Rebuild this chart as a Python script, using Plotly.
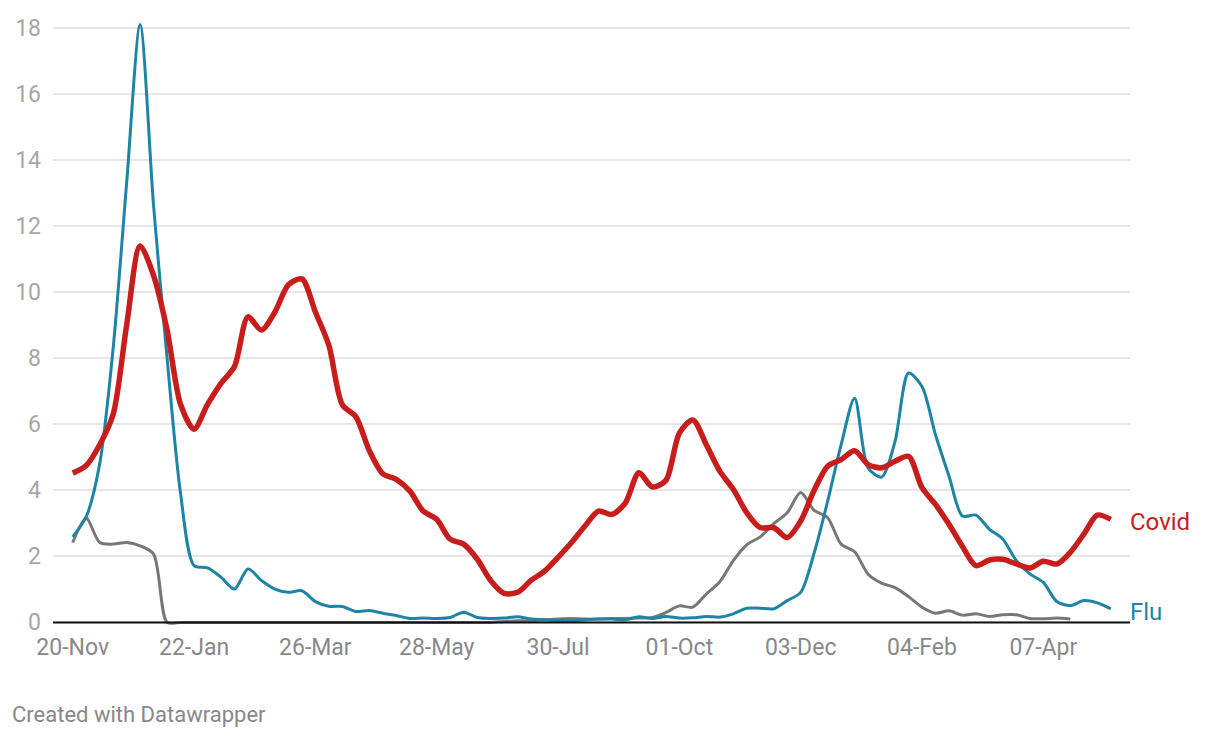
import pandas as pd
import plotly.graph_objects as go

# ---- data (weekly, starting 20-Nov-2022) ----
start_date = "2022-11-20"
covid = [4.52, 4.75, 5.38, 6.3, 9.0, 11.4, 10.5, 8.85, 6.6, 5.85,
         6.6, 7.24, 7.75, 9.25, 8.85, 9.4, 10.22, 10.4, 9.4, 8.39,
         6.59, 6.23, 5.2, 4.5, 4.33, 3.98, 3.37, 3.12, 2.52, 2.37,
         1.92, 1.27, 0.88, 0.91, 1.27, 1.55, 1.97, 2.42, 2.92, 3.37,
         3.27, 3.62, 4.53, 4.1, 4.3, 5.73, 6.13, 5.38, 4.58, 4.03,
         3.32, 2.87, 2.87, 2.57, 3.07, 4.0, 4.73, 4.93, 5.2, 4.78,
         4.68, 4.88, 5.03, 4.08, 3.57, 2.97, 2.3, 1.72, 1.89, 1.91,
         1.77, 1.65, 1.85, 1.77, 2.12, 2.67, 3.25, 3.12]
flu = [2.59, 3.2, 4.8, 8.3, 13.3, 18.1, 12.6, 8.0, 3.9, 1.72,
       1.65, 1.37, 1.01, 1.62, 1.27, 1.01, 0.91, 0.96, 0.63, 0.49,
       0.48, 0.33, 0.36, 0.28, 0.21, 0.12, 0.13, 0.12, 0.15, 0.31,
       0.15, 0.12, 0.13, 0.17, 0.1, 0.08, 0.05, 0.05, 0.08, 0.1,
       0.1, 0.08, 0.17, 0.12, 0.18, 0.13, 0.14, 0.18, 0.16, 0.26,
       0.43, 0.43, 0.41, 0.66, 0.91, 2.1, 3.67, 5.38, 6.79, 4.68,
       4.4, 5.48, 7.55, 7.14, 5.68, 4.43, 3.22, 3.25, 2.82, 2.52,
       1.87, 1.47, 1.21, 0.63, 0.51, 0.66, 0.59, 0.41]
other = [2.42, 3.15, 2.42, 2.37, 2.42, 2.32, 2.07, 0, 0, 0,
         0, 0, 0, 0, 0, 0, 0, 0, 0, 0,
         0, 0, 0, 0, 0, 0, 0, 0, 0, 0,
         0, 0, 0.03, 0.05, 0.05, 0.08, 0.1, 0.12, 0.1, 0.1,
         0.12, 0.12, 0.13, 0.15, 0.3, 0.5, 0.46, 0.86, 1.23, 1.87,
         2.35, 2.59, 2.99, 3.32, 3.93, 3.39, 3.17, 2.37, 2.14, 1.46,
         1.19, 1.05, 0.78, 0.46, 0.28, 0.35, 0.22, 0.26, 0.18, 0.23,
         0.23, 0.12, 0.11, 0.13, 0.1]
tick_dates = ["2022-11-20", "2023-01-22", "2023-03-26", "2023-05-28", "2023-07-30",
              "2023-10-01", "2023-12-03", "2024-02-04", "2024-04-07"]
tick_labels = ["20-Nov", "22-Jan", "26-Mar", "28-May", "30-Jul",
               "01-Oct", "03-Dec", "04-Feb", "07-Apr"]
y_ticks = [0, 2, 4, 6, 8, 10, 12, 14, 16, 18]

dates = pd.date_range(start_date, periods=len(covid), freq="7D")

RED = "#c71e1d"
BLUE = "#1d84a6"
GREY = "#777777"
FONT = "Roboto"

fig = go.Figure()
fig.add_trace(go.Scatter(x=dates[:len(other)], y=other, mode="lines",
                         line=dict(color=GREY, width=3, shape="spline", smoothing=0.8),
                         hoverinfo="skip", showlegend=False))
fig.add_trace(go.Scatter(x=dates[:len(flu)], y=flu, mode="lines",
                         line=dict(color=BLUE, width=3, shape="spline", smoothing=0.8),
                         showlegend=False))
fig.add_trace(go.Scatter(x=dates, y=covid, mode="lines",
                         line=dict(color=RED, width=5.5, shape="spline", smoothing=0.8),
                         showlegend=False))

t0 = pd.Timestamp(start_date)
x_range = [t0 - pd.Timedelta(days=10.24), t0 + pd.Timedelta(days=549)]

# page body has an 8px default margin, so offsets are compensated
L, T, PW, PH = 41, 7, 1081, 614
fig.update_layout(
    width=1220, height=738,
    margin=dict(l=L, r=1220 - L - PW, t=T, b=738 - T - PH),
    paper_bgcolor="white", plot_bgcolor="white",
    font=dict(family=FONT),
    xaxis=dict(range=x_range, tickvals=pd.to_datetime(tick_dates), ticktext=tick_labels,
               showgrid=False, zeroline=False, showline=False, ticks="",
               tickfont=dict(size=23, color="#888888", family=FONT),
               ticklabelstandoff=2),
    yaxis=dict(range=[-0.2, 18.3], tickvals=y_ticks, showgrid=True,
               gridcolor="#e6e6e6", gridwidth=1.5, zeroline=False, showline=False,
               ticks="", tickfont=dict(size=23, color="#a6a6a6", family=FONT),
               ticklabelstandoff=11),
    shapes=[dict(type="line", xref="paper", yref="y", x0=0, x1=1, y0=0, y1=0,
                 line=dict(color="#111111", width=2), layer="above")],
    annotations=[
        dict(x=1.0, y=covid[-1], xref="paper", yref="y", text="Covid", showarrow=False,
             xanchor="left", yanchor="middle", xshift=-2, yshift=-3,
             font=dict(size=24, color=RED, family=FONT)),
        dict(x=1.0, y=flu[-1], xref="paper", yref="y", text="Flu", showarrow=False,
             xanchor="left", yanchor="middle", xshift=-2, yshift=-3,
             font=dict(size=24, color=BLUE, family=FONT)),
        dict(x=(11 - 49) / PW, y=(628.6 - 715) / PH, xref="paper", yref="paper",
             text="Created with Datawrapper", showarrow=False, xanchor="left",
             yanchor="middle", xshift=-5,
             font=dict(size=22, color="#888888", family=FONT)),
    ],
)

fig.write_html("out.html")
